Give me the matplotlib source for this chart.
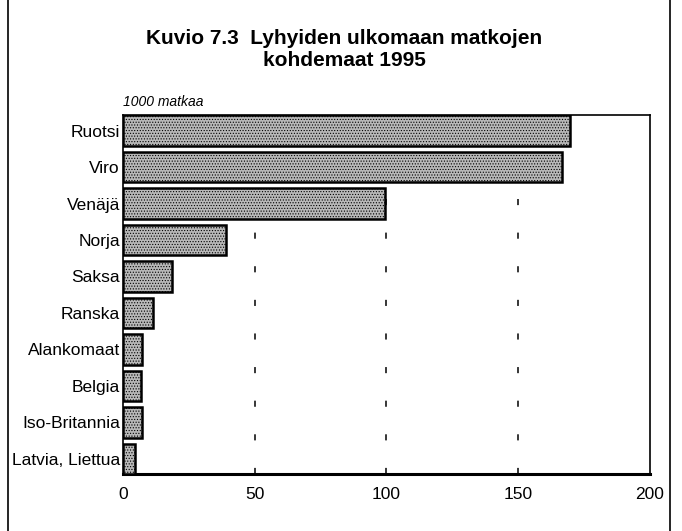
import matplotlib
matplotlib.use("Agg")
import matplotlib.pyplot as plt
from matplotlib.lines import Line2D

plt.rcParams['font.family'] = ['Liberation Sans', 'DejaVu Sans']
plt.rcParams['hatch.color'] = '#6e6e6e'
plt.rcParams['hatch.linewidth'] = 0.5

countries = ["Ruotsi", "Viro", "Venäjä", "Norja", "Saksa", "Ranska",
             "Alankomaat", "Belgia", "Iso-Britannia", "Latvia, Liettua"]
values = [169.5, 166.5, 99.5, 39.2, 18.7, 11.4, 7.3, 6.8, 7.2, 4.6]
xticks = [0, 50, 100, 150, 200]
title = "Kuvio 7.3  Lyhyiden ulkomaan matkojen\nkohdemaat 1995"
unit = "1000 matkaa"

fig = plt.figure(figsize=(6.82, 5.31), dpi=100)
ax = fig.add_axes([0.180, 0.107, 0.773, 0.676])

h = 0.84
ypos = list(range(len(countries)))
ax.barh(ypos, values, height=h, color='#b8b8b8', edgecolor='black',
        linewidth=1.8, hatch='......', zorder=3)

for x in xticks[1:-1]:
    ax.axvline(x, color='black', linestyle=(0, (4, 18)), linewidth=1.1, zorder=1)

ax.set_xlim(0, 200)
ax.set_ylim(len(countries) - 1 + h / 2, -h / 2)
ax.set_yticks(ypos)
ax.set_yticklabels(countries, fontsize=12.5)
ax.set_xticks(xticks)
ax.set_xticklabels([str(t) for t in xticks], fontsize=12.5)
ax.tick_params(axis='both', length=0)
ax.tick_params(axis='y', pad=2)
ax.tick_params(axis='x', pad=9)
for s in ['top', 'right', 'left']:
    ax.spines[s].set_linewidth(1.2)
ax.spines['bottom'].set_linewidth(2.2)

fig.text(0.505, 0.906, title, ha='center', va='center', fontsize=15,
         fontweight='bold', linespacing=1.2)
ax.text(0.0, 1.018, unit, transform=ax.transAxes, ha='left', va='bottom',
        fontsize=10, fontstyle='italic')

fig.add_artist(Line2D([0.012, 0.012], [0, 1], transform=fig.transFigure,
                      color='black', linewidth=1.2))
fig.add_artist(Line2D([0.982, 0.982], [0, 1], transform=fig.transFigure,
                      color='black', linewidth=1.2))

fig.savefig("out.png", dpi=100)
